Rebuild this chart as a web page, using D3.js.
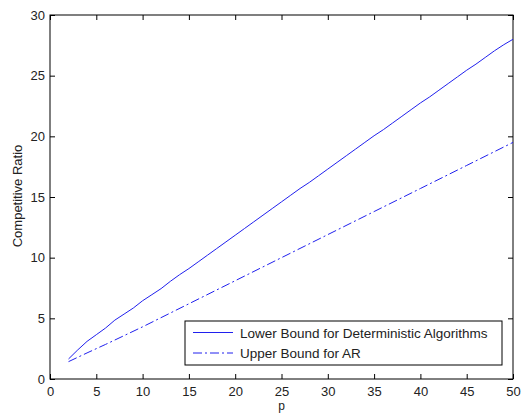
<!DOCTYPE html>
<html>
<head>
<meta charset="utf-8">
<script src="https://cdn.jsdelivr.net/npm/d3@7"></script>
<style>
  body { margin: 0; background: #fff; }
  text { font-family: "Liberation Sans", Arial, sans-serif; }
</style>
</head>
<body>
<svg id="chart"></svg>
<script>
// data
const pLower = d3.range(2, 51);
const lowerBound = [1.65, 2.4, 3.1, 3.65, 4.2, 4.85, 5.35, 5.85, 6.45, 6.95,
  7.45, 8.05, 8.6, 9.1, 9.65, 10.2, 10.75, 11.3, 11.85, 12.4,
  12.95, 13.5, 14.05, 14.6, 15.15, 15.7, 16.2, 16.75, 17.3, 17.85,
  18.4, 18.95, 19.5, 20.05, 20.55, 21.1, 21.65, 22.2, 22.75, 23.25,
  23.8, 24.35, 24.9, 25.45, 25.95, 26.5, 27.05, 27.55, 28.0];
const pUpper = [2, 4, 6, 10, 15, 20, 25, 30, 35, 40, 45, 50];
const upperBound = [1.43, 2.15, 2.85, 4.3, 6.2, 8.1, 10.0, 11.9, 13.8, 15.7, 17.6, 19.5];
const xTicks = d3.range(0, 51, 5);
const yTicks = d3.range(0, 31, 5);
const legendLabels = ['Lower Bound for Deterministic Algorithms', 'Upper Bound for AR'];

const W = 521, H = 416;
const margin = { top: 15, right: 8, bottom: 37, left: 50 };
const width = W - margin.left - margin.right,
  height = H - margin.top - margin.bottom;

const svg = d3.select('#chart').attr('width', W).attr('height', H);
const g = svg.append('g').attr('transform', `translate(${margin.left},${margin.top})`);

const x = d3.scaleLinear().domain([0, 50]).range([0, width]);
const y = d3.scaleLinear().domain([0, 30]).range([height, 0]);

// box
g.append('rect')
  .attr('width', width).attr('height', height)
  .attr('fill', 'none').attr('stroke', '#000').attr('stroke-width', 1);

function styleAxis(sel) {
  sel.select('.domain').remove();
  sel.selectAll('line').attr('stroke', '#000');
  sel.selectAll('text').attr('font-size', 13).attr('fill', '#222');
}

// bottom & left axes with inward ticks
g.append('g').attr('transform', `translate(0,${height})`)
  .call(d3.axisBottom(x).tickValues(xTicks).tickSize(-5).tickPadding(8))
  .call(styleAxis);
g.append('g')
  .call(d3.axisLeft(y).tickValues(yTicks).tickSize(-5).tickPadding(5))
  .call(styleAxis);
// mirrored ticks on top & right
g.append('g')
  .call(d3.axisTop(x).tickValues(xTicks).tickSize(-5).tickFormat(''))
  .call(styleAxis);
g.append('g').attr('transform', `translate(${width},0)`)
  .call(d3.axisRight(y).tickValues(yTicks).tickSize(-5).tickFormat(''))
  .call(styleAxis);

// axis labels
svg.append('text')
  .attr('x', margin.left + width / 2).attr('y', 410)
  .attr('text-anchor', 'middle').attr('font-size', 12).attr('fill', '#222').text('p');
svg.append('text')
  .attr('transform', `translate(22,${margin.top + height / 2 - 1}) rotate(-90)`)
  .attr('text-anchor', 'middle').attr('font-size', 13).attr('fill', '#222')
  .text('Competitive Ratio');

const line = d3.line().x(d => x(d[0])).y(d => y(d[1]));

g.append('path')
  .datum(pLower.map((p, i) => [p, lowerBound[i]]))
  .attr('d', line).attr('fill', 'none')
  .attr('stroke', '#2020ee').attr('stroke-width', 1);
g.append('path')
  .datum(pUpper.map((p, i) => [p, upperBound[i]]))
  .attr('d', line).attr('fill', 'none')
  .attr('stroke', '#2020ee').attr('stroke-width', 1)
  .attr('stroke-dasharray', '9,3,2,3');

// legend
const lg = svg.append('g').attr('transform', 'translate(185,321)');
lg.append('rect')
  .attr('width', 317).attr('height', 44)
  .attr('fill', '#fff').attr('stroke', '#000').attr('stroke-width', 1);
const dashes = [null, '9,3,2,3'];
legendLabels.forEach((lab, i) => {
  const yy = 11.5 + i * 20.5;
  lg.append('line')
    .attr('x1', 8).attr('x2', 48).attr('y1', yy).attr('y2', yy)
    .attr('stroke', '#2020ee').attr('stroke-width', 1)
    .attr('stroke-dasharray', dashes[i]);
  lg.append('text')
    .attr('x', 55).attr('y', yy + 5)
    .attr('font-size', 13.5).attr('fill', '#222').text(lab);
});
</script>
</body>
</html>
